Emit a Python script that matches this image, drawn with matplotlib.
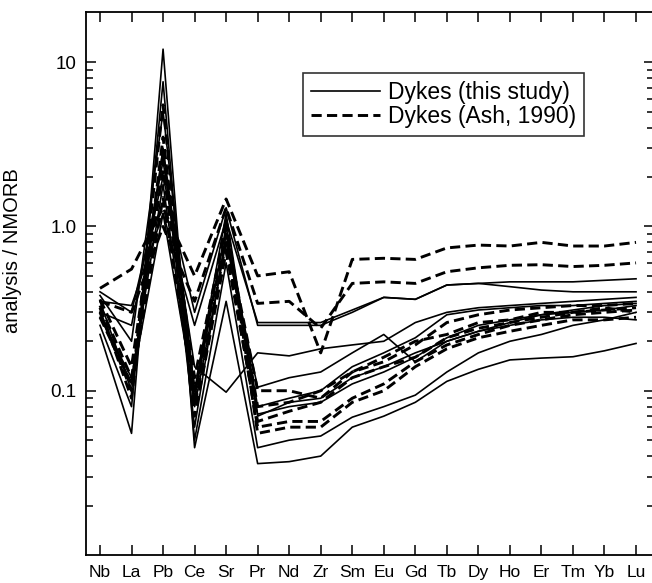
import numpy as np
import matplotlib
matplotlib.use('Agg')
from matplotlib import pyplot as plt
from matplotlib.ticker import FixedLocator, NullFormatter

plt.rcParams['font.family'] = ['Liberation Sans', 'DejaVu Sans']

elements = ['Nb', 'La', 'Pb', 'Ce', 'Sr', 'Pr', 'Nd', 'Zr', 'Sm', 'Eu',
            'Gd', 'Tb', 'Dy', 'Ho', 'Er', 'Tm', 'Yb', 'Lu']

# Dykes (this study), normalised to NMORB
this_study = [
    [0.35, 0.33, 1.2, 0.25, 1.10, 0.26, 0.26, 0.26, 0.31, 0.37, 0.36, 0.44, 0.45, 0.46, 0.46, 0.46, 0.47, 0.48],
    [0.40, 0.30, 2.0, 0.30, 1.30, 0.25, 0.25, 0.25, 0.30, 0.37, 0.36, 0.44, 0.45, 0.43, 0.41, 0.40, 0.40, 0.40],
    [0.30, 0.25, 2.5, 0.14, 0.098, 0.17, 0.163, 0.18, 0.19, 0.20, 0.26, 0.30, 0.32, 0.33, 0.34, 0.35, 0.36, 0.37],
    [0.28, 0.12, 1.8, 0.08, 0.80, 0.105, 0.12, 0.13, 0.17, 0.22, 0.15, 0.20, 0.23, 0.26, 0.29, 0.31, 0.33, 0.34],
    [0.22, 0.055, 12.0, 0.045, 0.35, 0.036, 0.037, 0.040, 0.060, 0.070, 0.085, 0.114, 0.135, 0.154, 0.158, 0.161, 0.175, 0.194],
    [0.25, 0.08, 7.6, 0.05, 0.60, 0.045, 0.050, 0.053, 0.069, 0.080, 0.094, 0.13, 0.17, 0.20, 0.22, 0.25, 0.27, 0.30],
    [0.35, 0.10, 3.0, 0.06, 0.90, 0.072, 0.080, 0.085, 0.11, 0.13, 0.16, 0.21, 0.25, 0.27, 0.29, 0.30, 0.31, 0.33],
    [0.30, 0.11, 1.2, 0.09, 1.00, 0.080, 0.090, 0.10, 0.14, 0.17, 0.21, 0.29, 0.31, 0.32, 0.33, 0.33, 0.34, 0.35],
    [0.38, 0.20, 5.0, 0.10, 1.20, 0.070, 0.085, 0.09, 0.12, 0.14, 0.17, 0.20, 0.23, 0.25, 0.27, 0.28, 0.28, 0.27],
]

# Dykes (Ash, 1990)
ash_1990 = [
    [0.42, 0.55, 1.3, 0.50, 1.47, 0.50, 0.53, 0.17, 0.63, 0.64, 0.63, 0.74, 0.77, 0.76, 0.80, 0.76, 0.76, 0.80],
    [0.35, 0.30, 1.0, 0.35, 1.30, 0.34, 0.35, 0.24, 0.45, 0.46, 0.45, 0.53, 0.56, 0.58, 0.585, 0.57, 0.58, 0.60],
    [0.33, 0.12, 2.2, 0.10, 0.90, 0.10, 0.10, 0.09, 0.13, 0.15, 0.19, 0.26, 0.29, 0.31, 0.32, 0.33, 0.33, 0.34],
    [0.30, 0.10, 5.5, 0.07, 0.70, 0.065, 0.075, 0.085, 0.12, 0.14, 0.16, 0.21, 0.24, 0.26, 0.28, 0.30, 0.31, 0.32],
    [0.32, 0.09, 3.5, 0.08, 0.80, 0.060, 0.065, 0.065, 0.09, 0.11, 0.15, 0.19, 0.22, 0.25, 0.27, 0.29, 0.30, 0.31],
    [0.28, 0.11, 1.5, 0.09, 1.10, 0.055, 0.060, 0.060, 0.085, 0.10, 0.14, 0.18, 0.21, 0.23, 0.25, 0.27, 0.27, 0.28],
    [0.36, 0.14, 2.8, 0.12, 1.00, 0.080, 0.085, 0.10, 0.13, 0.16, 0.20, 0.22, 0.26, 0.27, 0.30, 0.30, 0.32, 0.30],
]

fig = plt.figure(figsize=(6.52, 5.83), dpi=100)
ax = fig.add_axes([86 / 652, 1 - 555 / 583, 568 / 652, 543 / 583])

x = np.arange(len(elements))
for i, row in enumerate(this_study):
    ax.plot(x, row, color='black', lw=1.2,
            label='Dykes (this study)' if i == 0 else None)
for i, row in enumerate(ash_1990):
    ax.plot(x, row, color='black', lw=2.1, linestyle=(0, (3.5, 1.8)),
            label='Dykes (Ash, 1990)' if i == 0 else None)

ax.set_yscale('log')
ax.set_ylim(0.01, 20.2)
ax.set_xlim(-0.444, 17.57)

ax.yaxis.set_major_locator(FixedLocator([0.1, 1.0, 10]))
ax.set_yticklabels(['0.1', '1.0', '10'])
minors = [m * d for d in (0.01, 0.1, 1) for m in range(2, 10)]
ax.yaxis.set_minor_locator(FixedLocator(minors))
ax.yaxis.set_minor_formatter(NullFormatter())

ax.set_xticks(x)
ax.set_xticklabels(elements)
ax.xaxis.set_minor_locator(FixedLocator([]))

ax.tick_params(axis='both', which='both', direction='in', top=True, right=True,
               width=1.1, color='black')
ax.tick_params(axis='x', which='major', length=7, labelsize=12.5, pad=7)
ax.tick_params(axis='y', which='major', length=7, labelsize=13.5, pad=7)
ax.tick_params(axis='y', which='minor', length=5)

for s in ax.spines.values():
    s.set_linewidth(1.3)

ax.set_ylabel('analysis / NMORB', fontsize=14.5)
ax.yaxis.set_label_coords(-0.112, 0.56)

leg = ax.legend(loc='upper left', bbox_to_anchor=(303 / 652, 1 - 73 / 583),
                bbox_transform=fig.transFigure, fontsize=16.5, frameon=True,
                fancybox=False, handlelength=3.0, handletextpad=0.35,
                borderpad=0.35, labelspacing=0.05, borderaxespad=0)
leg.get_frame().set_edgecolor('black')
leg.get_frame().set_linewidth(1.2)

fig.savefig('out.png', dpi=100)
